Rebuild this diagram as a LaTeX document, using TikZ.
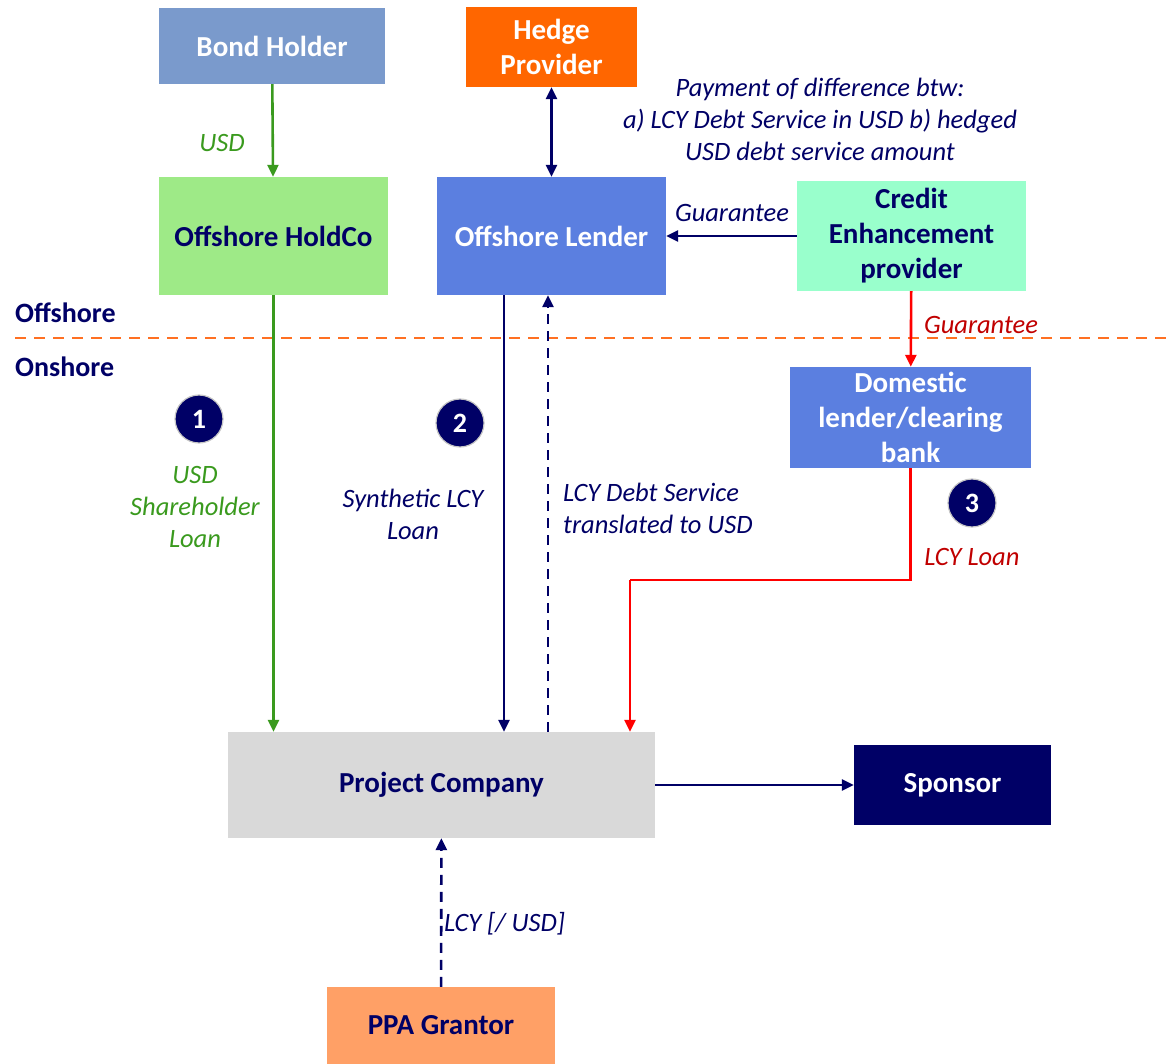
\documentclass[tikz,border=0pt]{standalone}
\usepackage{fontspec}
\setmainfont{Carlito}
\usetikzlibrary{arrows.meta}
\definecolor{navy}{HTML}{000066}
\definecolor{bondc}{HTML}{7A9ACC}
\definecolor{hedgec}{HTML}{FF6600}
\definecolor{holdc}{HTML}{9EEA87}
\definecolor{lendc}{HTML}{5B7FE0}
\definecolor{cec}{HTML}{99FFCC}
\definecolor{projc}{HTML}{D9D9D9}
\definecolor{ppac}{HTML}{FFA066}
\definecolor{greenl}{HTML}{3A9A1E}
\definecolor{redl}{HTML}{FF0000}
\definecolor{redt}{HTML}{C00000}
\definecolor{orangel}{HTML}{FF7022}
\tikzset{
  box/.style={inner sep=0pt, align=center, font=\fontsize{29}{35}\selectfont\bfseries},
  lbl/.style={inner sep=0pt, align=center, font=\fontsize{26.5}{32}\selectfont\itshape},
  conn/.style={line width=2.6pt, -{Triangle[length=12pt,width=11pt]}},
  dconn/.style={conn, dash pattern=on 10pt off 7pt},
  numc/.style={circle, fill=navy, draw=gray!45, line width=1.2pt, minimum size=48pt, inner sep=0pt, text=white, font=\fontsize{28}{30}\selectfont\bfseries},
  side/.style={inner sep=0pt, anchor=west, text=navy, font=\fontsize{28}{30}\selectfont\bfseries}
}
\begin{document}
\begin{tikzpicture}[x=1pt,y=-1pt]
\useasboundingbox (0,0) rectangle (1170,1064);
% boxes
\node[box, fill=bondc, text=white, minimum width=226pt, minimum height=76pt] (bond) at (272,46) {Bond Holder};
\node[box, fill=hedgec, text=white, minimum width=171pt, minimum height=80pt] (hedge) at (551.5,47) {Hedge\\Provider};
\node[box, fill=holdc, text=navy, minimum width=229pt, minimum height=118pt] (hold) at (273.5,236) {Offshore HoldCo};
\node[box, fill=lendc, text=white, minimum width=229pt, minimum height=118pt] (lend) at (551.5,236) {Offshore Lender};
\node[box, fill=cec, text=navy, minimum width=229pt, minimum height=110pt] (ce) at (911.5,236) {Credit\\Enhancement\\provider};
\node[box, fill=lendc, text=white, minimum width=241pt, minimum height=101pt] (dom) at (910.5,417.5) {Domestic\\lender/clearing\\bank};
\node[box, fill=projc, text=navy, minimum width=427pt, minimum height=106pt] (proj) at (441.5,785) {Project Company};
\node[box, fill=navy, text=white, minimum width=197pt, minimum height=80pt] (spon) at (952.5,785) {Sponsor};
\node[box, fill=ppac, text=navy, minimum width=228pt, minimum height=77pt] (ppa) at (441,1025.5) {PPA Grantor};
% offshore / onshore divider
\coordinate (dl) at (15,338);
\coordinate (dr) at (1170,338);
\draw[orangel, line width=2.4pt, dash pattern=on 11pt off 8pt] (dl) -- (dr);
\node[side] (off) at (15,313) {Offshore};
\node[side] (on) at (15,367) {Onshore};
% helper x coordinates
\coordinate (xa) at (504,0);
\coordinate (xb) at (548,0);
\coordinate (xr) at (630,0);
\coordinate (bend) at (630,580);
% connectors
\draw[conn, greenl] (bond) -- (hold);
\draw[conn, navy, {Triangle[length=12pt,width=11pt]}-{Triangle[length=12pt,width=11pt]}] (hedge) -- (lend);
\draw[conn, navy] (ce) -- (lend);
\draw[conn, redl] (ce) -- (dom);
\draw[conn, greenl] (hold) -- (proj.north -| hold);
\draw[conn, navy] (lend.south -| xa) -- (proj.north -| xa);
\draw[dconn, navy] (proj.north -| xb) -- (lend.south -| xb);
\draw[conn, redl, -] (dom.south) |- (bend);
\draw[conn, redl] (bend) -- (proj.north -| xr);
\draw[conn, navy] (proj) -- (spon);
\draw[dconn, navy] (ppa) -- (proj);
% labels
\node[lbl, text=greenl] (lusd) at (222,143) {USD};
\node[lbl, text=navy] (lpay) at (820,119) {Payment of difference btw:\\a) LCY Debt Service in USD b) hedged\\USD debt service amount};
\node[lbl, text=navy] (lg1) at (732,213) {Guarantee};
\node[lbl, text=redt] (lg2) at (981,325) {Guarantee};
\node[lbl, text=greenl] (lsh) at (195,507) {USD\\Shareholder\\Loan};
\node[lbl, text=navy] (lsyn) at (413,514) {Synthetic LCY\\Loan};
\node[lbl, text=navy, align=left, anchor=west] (lds) at (563,508) {LCY Debt Service\\translated to USD};
\node[lbl, text=redt] (llcy) at (972,557) {LCY Loan};
\node[lbl, text=navy, anchor=west] (lppa) at (444,924) {LCY [/ USD]};
% numbered circles
\node[numc] (n1) at (199,419) {1};
\node[numc] (n2) at (460,423) {2};
\node[numc] (n3) at (972,503) {3};
\end{tikzpicture}
\end{document}
